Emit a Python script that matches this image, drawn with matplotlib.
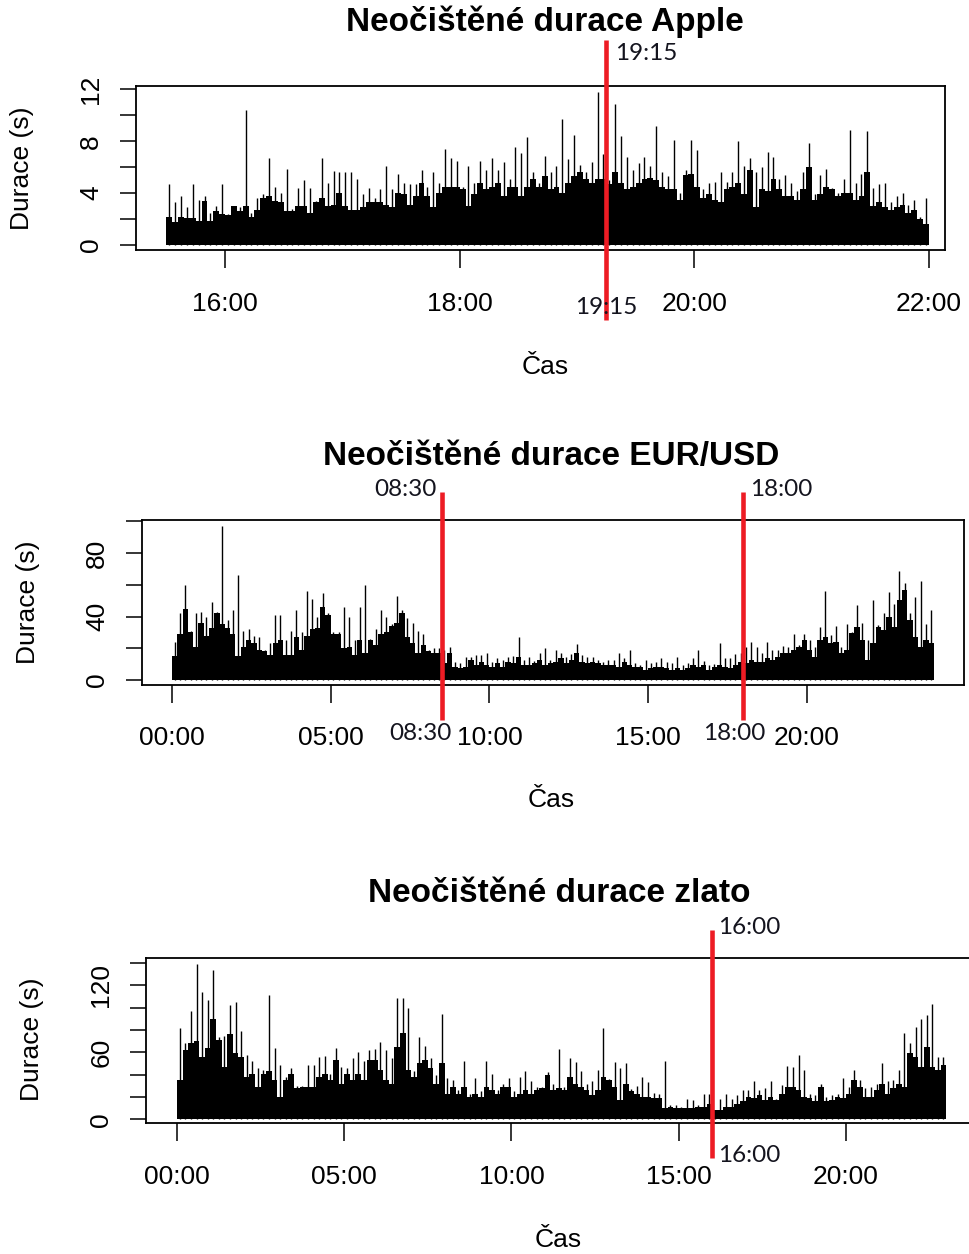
import numpy as np
import matplotlib
matplotlib.use("Agg")
import matplotlib.pyplot as plt
from matplotlib.lines import Line2D

W, H = 969, 1254

# --- Apple: durations per 3-minute bin from 15:30 (body level / highest spike) ---
APPLE_START = 15.5
APPLE_STEP = 0.05
apple_body = [
    2.2, 1.8, 2.2, 2.1, 2.1, 1.85, 3.4, 1.85, 2.6, 2.4, 2.3, 3.0, 2.6, 3.0, 2.2, 2.7, 3.6, 3.8, 3.4, 3.3,
    2.6, 2.6, 3.0, 3.0, 2.5, 3.3, 3.6, 3.0, 3.1, 4.0, 3.0, 2.7, 2.7, 2.9, 3.3, 3.3, 3.3, 3.1, 2.9, 4.0,
    3.9, 3.1, 3.8, 4.8, 3.8, 2.9, 4.0, 4.5, 4.5, 4.5, 4.3, 3.0, 3.9, 4.8, 4.3, 4.5, 4.8, 3.8, 4.5, 4.5,
    3.8, 4.5, 5.1, 4.5, 5.3, 4.3, 4.5, 4.0, 4.8, 5.3, 5.6, 5.1, 4.8, 5.1, 5.1, 4.7, 5.6, 4.8, 4.3, 4.5,
    4.8, 5.1, 5.2, 5.0, 4.5, 4.3,
    4.3, 3.5, 5.4, 5.5, 4.5, 3.6, 3.9, 3.5, 3.3, 4.3, 4.5, 4.8, 3.9, 5.8, 2.9, 4.3, 4.2, 5.1, 4.3, 3.8,
    3.8, 3.5, 4.3, 6.0, 3.5, 3.9, 4.5, 4.3, 3.8, 4.0, 4.0, 3.5, 3.8, 5.6, 3.0, 3.3, 2.9, 2.7, 2.9, 3.1,
    2.5, 2.7, 2.0, 1.6,
]
apple_peak = [
    4.7, 3.3, 3.8, 2.9, 4.7, 3.5, 3.8, 2.5, 3.0, 4.7, 2.4, 3.0, 2.9, 10.4, 2.5, 3.6, 3.9, 6.7, 4.5, 4.0,
    5.9, 2.8, 4.4, 5.0, 4.4, 3.4, 6.7, 4.8, 5.7, 5.6, 5.6, 5.6, 5.1, 3.9, 4.4, 3.6, 4.3, 6.1, 4.3, 5.5,
    4.8, 4.7, 4.7, 5.8, 4.5, 5.6, 4.8, 7.4, 6.7, 6.5, 4.5, 6.1, 4.8, 6.5, 5.8, 6.7, 5.8, 6.4, 5.1, 7.6,
    7.1, 8.3, 5.6, 4.8, 6.9, 5.6, 6.1, 9.7, 6.6, 8.5, 6.2, 5.6, 6.4, 11.8, 7.0, 5.0, 10.9, 8.4, 6.8, 5.8,
    6.3, 6.8, 6.1, 9.2, 5.6, 5.3,
    8.1, 4.0, 5.8, 8.1, 7.3, 4.3, 4.8, 4.9, 5.6, 4.9, 5.6, 8.0, 6.1, 6.7, 5.6, 6.0, 7.2, 6.8, 5.1, 5.4,
    4.8, 4.2, 5.6, 7.9, 3.9, 5.4, 5.9, 4.4, 4.0, 5.1, 8.9, 4.8, 5.5, 8.8, 4.4, 4.7, 4.8, 3.3, 3.8, 4.0,
    3.1, 3.5, 2.2, 3.6,
]
apple_marks = [19.25]

# --- EUR/USD: 10-minute bins from 00:00 ---
EUR_START = 0.0
EUR_STEP = 1 / 6
eur_body = [
    15, 29, 45, 30, 21, 36, 28, 33, 42, 35, 33, 29, 15, 21, 25, 23, 19, 18, 16, 23,
    25, 16, 16, 27, 19, 28, 32, 33, 46, 41, 29, 29, 20, 21, 16, 25, 17, 25, 22, 29,
    30, 34, 36, 42, 27, 23, 17, 22, 18, 17, 17, 10.5, 17, 8.4, 7.3, 8.4, 12.6, 9.4, 11.5, 9.4,
    8.4, 10.5, 8.4, 11.5, 10.5, 14.7, 9.4, 9.4, 10.5, 12.6, 9.4, 10.5, 11.5, 13.6, 10.5, 12.6, 16.8, 11.5, 10.5, 11.5,
    10.5, 9.4, 9.4, 9.4, 8.4, 11.5, 9.4, 8.4, 8.4, 6.3, 7.3, 8.4, 8.4, 7.3, 6.3, 7.3, 6.3, 7.3, 9.4, 8.4,
    9.4, 6.3, 8.4, 9.4, 8.4, 7.3, 9.4, 11.5, 10.5, 12.6, 11.5, 11.5, 13.6, 12.6, 14.7, 16.8, 16.8, 18.9, 21, 25.2,
    18.9, 14.7, 25.2, 27.3, 23, 24, 16.8, 18.9, 29.4, 33.6, 25.2, 12.6, 23, 33.6, 31.5, 40, 33.6, 50.4, 56.7, 37.8,
    27.3, 21, 25.2, 23,
]
eur_peak = [
    24, 42, 60, 31, 42, 43, 40, 49, 43, 97, 38, 44, 66, 31, 32, 28, 27, 19, 23, 41,
    41, 25, 31, 44, 30, 56, 51, 40, 55, 42, 30, 30, 46, 40, 25, 46, 60, 26, 32, 44,
    40, 35, 53, 44, 39, 36, 31, 29, 19, 20, 20, 19, 21, 11.5, 10.5, 14.7, 14.7, 16, 15.7, 16.8,
    11.5, 13.6, 12.6, 14.7, 15, 26.9, 12.6, 14.7, 12, 17.2, 20, 12.6, 18.9, 16.8, 14.7, 16.4, 22.5, 15.7, 14.7, 14.7,
    12.6, 11.5, 12.6, 12.6, 16.8, 13.6, 18.9, 10.5, 9.4, 12.6, 10.5, 11.5, 13.6, 11.5, 10.5, 14.7, 9.4, 10.5, 13.6, 18.9,
    12, 9.4, 10, 23.5, 13.6, 13.6, 16.4, 16.8, 21, 24, 21, 16.8, 24, 18.9, 18.9, 21.4, 21, 29, 22, 29,
    25.2, 21, 33.6, 56, 28.3, 34, 21, 35, 30, 47, 35.7, 25, 50.4, 34.7, 42, 55.6, 48, 68.9, 61, 42,
    52.5, 62.4, 35, 44,
]
eur_marks = [8.5, 18.0]

# --- Gold: 10-minute bins from 00:00 ---
GOLD_START = 0.0
GOLD_STEP = 1 / 6
gold_body = [
    35, 62, 68, 70, 56, 64, 90, 71, 47, 76, 59, 56, 38, 41, 29, 41, 43, 35, 20, 35,
    41, 28, 29, 29, 29, 38, 41, 35, 53, 32, 41, 35, 41, 35, 53, 53, 44, 35, 32, 65,
    77, 44, 38, 50, 53, 46, 32, 50, 23, 29, 23, 29, 20, 23, 20, 29, 26, 23, 29, 29,
    20, 23, 26, 23, 26, 28, 40, 26, 28, 26, 38, 32, 29, 26, 22, 26, 38, 35, 29, 17,
    32, 25, 23, 20, 20, 19, 19, 10, 11, 10, 10, 10, 10, 11, 11, 14, 8, 8, 11, 11,
    14, 16, 20, 19, 22, 17, 20, 17, 23, 29, 29, 26, 20, 19, 16, 29, 16, 17, 20, 19,
    23, 35, 29, 20, 20, 26, 32, 23, 28, 32, 29, 59, 56, 47, 65, 47, 44, 49,
]
gold_peak = [
    81.5, 68, 97, 139, 114, 107, 134, 74, 75, 102, 105, 79, 58, 52, 46, 44, 111, 64, 49, 38,
    46, 30, 30, 49, 49, 56, 57, 41, 64, 47, 46, 55, 60, 52, 62, 63, 69, 62, 55, 109,
    109, 100, 43, 74, 66, 55, 40, 94, 37, 35, 26, 52, 23, 37, 25, 52, 41, 26, 32, 37,
    25, 38, 43, 34, 29, 29, 42, 32, 63, 29, 55, 51, 43, 32, 34, 44, 82, 36, 51, 46,
    50, 27, 30, 38, 33, 24, 23, 52, 13, 13, 11, 18, 17, 13, 23, 23, 8.5, 18, 23, 18,
    22, 26, 26, 34, 26, 28, 34, 18, 31, 48, 47, 58, 44, 23, 22, 32, 20, 22, 23, 37,
    29, 44, 35, 28, 29, 32, 50, 34, 35, 44, 77, 68, 83, 90, 93, 103, 56, 56,
]
gold_marks = [16.0]

# --- Styling ---
R_FONT = "Liberation Sans"
NOTE_FONT = "Lato"
RED = "#ed1c24"
plt.rcParams["font.family"] = R_FONT


def fx(px):
    return px / W


def fy(py):
    return 1 - py / H


def add_box(fig, left, top, right, bottom):
    return fig.add_axes([fx(left), fy(bottom), (right - left) / W, (bottom - top) / H])


def hour_label(h):
    return f"{int(round(h)) % 24:02d}:00"


def draw_panel(ax, start, step, body, peak, xlim, ylim, xticks, yticks, ylabeled):
    body = np.asarray(body, dtype=float)
    peak = np.asarray(peak, dtype=float)
    left = start + step * np.arange(len(body))
    # dense mass of the series per bin, then the individual spikes on top
    ax.bar(left, body, width=step, align="edge", color="black", linewidth=0)
    ax.vlines(left + step / 2, 0, peak, colors="black", linewidth=1.0)
    ax.set_xlim(*xlim)
    ax.set_ylim(*ylim)
    ax.set_xticks(xticks)
    ax.set_xticklabels([hour_label(h) for h in xticks])
    ax.set_yticks(yticks)
    ax.set_yticklabels([f"{v:g}" if v in ylabeled else "" for v in yticks])
    ax.tick_params(axis="x", direction="out", length=13, width=1.1, labelsize=19, pad=17)
    ax.tick_params(axis="y", direction="out", length=11.5, width=1.1, labelsize=19, pad=12)
    for lab in ax.get_yticklabels():
        lab.set_rotation(90)
        lab.set_va("center")
        lab.set_ha("right")
    for sp in ax.spines.values():
        sp.set_linewidth(1.3)


def mark_time(fig, ax, h, y_top, y_bot, notes):
    xpix = ax.transData.transform((h, 0))[0]
    fig.add_artist(Line2D([fx(xpix), fx(xpix)], [fy(y_top), fy(y_bot)],
                          color=RED, linewidth=3.3, solid_capstyle="butt"))
    label = f"{int(h):02d}:{int(round((h % 1) * 60)):02d}"
    for dx, y, ha in notes:
        fig.text(fx(xpix + dx), fy(y), label, ha=ha, va="center",
                 fontsize=17.5, family=NOTE_FONT, color="#14141e")


def captions(fig, title, title_xy, ylab_xy, xlab_xy):
    fig.text(fx(title_xy[0]), fy(title_xy[1]), title, ha="center", va="center",
             fontsize=24, fontweight="bold")
    fig.text(fx(ylab_xy[0]), fy(ylab_xy[1]), "Durace (s)", ha="center", va="center",
             rotation=90, fontsize=19)
    fig.text(fx(xlab_xy[0]), fy(xlab_xy[1]), "Čas", ha="center", va="center", fontsize=19)


fig = plt.figure(figsize=(W / 100, H / 100), dpi=100)

# Apple
ax1 = add_box(fig, 136, 86, 945, 250)
draw_panel(ax1, APPLE_START, APPLE_STEP, apple_body, apple_peak,
           (15.241, 22.137), (-0.385, 12.27), [16, 18, 20, 22],
           [0, 2, 4, 6, 8, 10, 12], [0, 4, 8, 12])
captions(fig, "Neočištěné durace Apple", (545, 22), (22, 168), (545, 367))
for h in apple_marks:
    mark_time(fig, ax1, h, 40, 320, [(9, 53, "left"), (0, 307, "center")])

# EUR/USD
ax2 = add_box(fig, 142, 520, 964, 684.5)
draw_panel(ax2, EUR_START, EUR_STEP, eur_body, eur_peak,
           (-0.945, 24.95), (-2.83, 100.8), [0, 5, 10, 15, 20],
           [0, 20, 40, 60, 80, 100], [0, 40, 80])
captions(fig, "Neočištěné durace EUR/USD", (551, 457), (28, 602), (551, 800))
mark_time(fig, ax2, eur_marks[0], 492, 720, [(-5, 489, "right"), (-21, 733, "center")])
mark_time(fig, ax2, eur_marks[1], 492, 720, [(7, 489, "left"), (-9, 733, "center")])

# Gold
ax3 = add_box(fig, 146, 957.5, 977, 1123)
draw_panel(ax3, GOLD_START, GOLD_STEP, gold_body, gold_peak,
           (-0.927, 23.92), (-3.3, 144.9), [0, 5, 10, 15, 20],
           list(range(0, 141, 20)), [0, 60, 120])
captions(fig, "Neočištěné durace zlato", (559, 893), (32, 1039), (558, 1240))
for h in gold_marks:
    mark_time(fig, ax3, h, 930, 1158, [(6, 927, "left"), (6, 1156, "left")])

fig.savefig("out.png", dpi=100)
